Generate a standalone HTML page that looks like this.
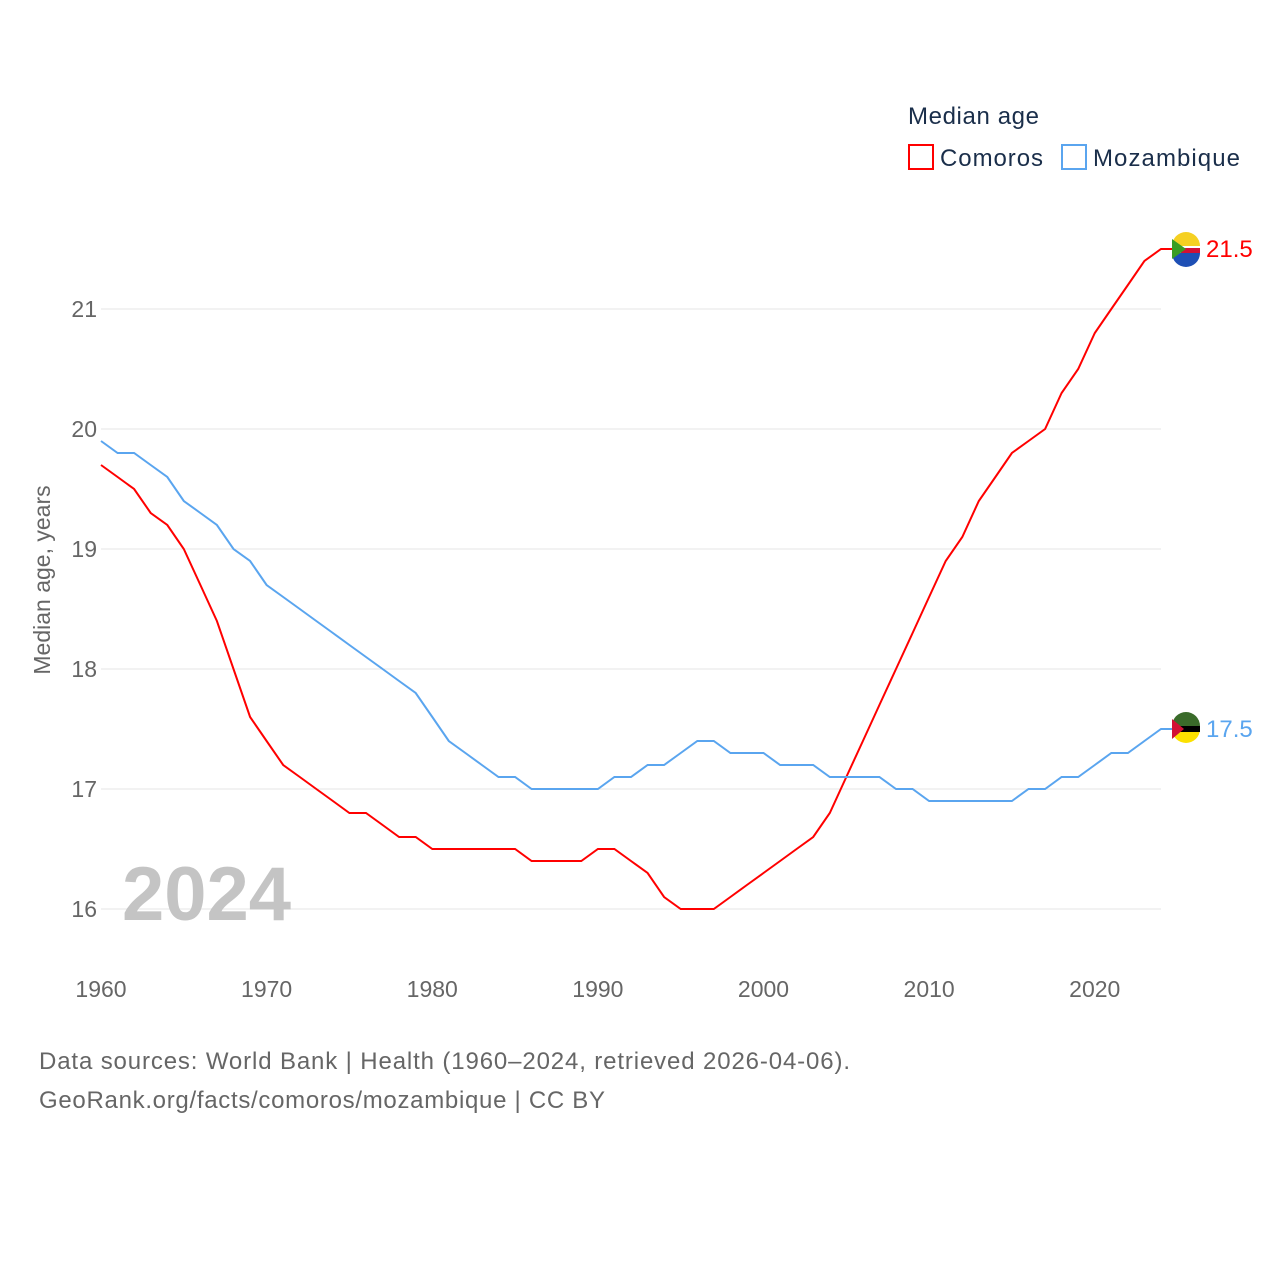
<!DOCTYPE html>
<html><head><meta charset="utf-8"><style>
body{margin:0;background:#fff;}
svg{display:block;font-family:"Liberation Sans",sans-serif;}
</style></head><body>
<svg id="chart" width="1280" height="1280" viewBox="0 0 1280 1280">
<g id="grid"></g>
<g id="yticks"></g>
<g id="xticks"></g>
<text x="50" y="580" transform="rotate(-90 50 580)" text-anchor="middle" font-size="23" fill="#666">Median age, years</text>
<text x="122" y="920" font-size="76" font-weight="bold" fill="#c4c4c4">2024</text>
<g id="lines"></g>
<g>
<text x="908" y="124" font-size="24" fill="#1a2e4a" textLength="131">Median age</text>
<g><rect x="909" y="145" width="24" height="24" fill="none" stroke="#ff0000" stroke-width="2"/><text x="940" y="166" font-size="24" fill="#1a2e4a" textLength="103">Comoros</text></g>
<g><rect x="1062" y="145" width="24" height="24" fill="none" stroke="#5aa5ef" stroke-width="2"/><text x="1093" y="166" font-size="24" fill="#1a2e4a" textLength="147">Mozambique</text></g>
</g>
<text x="39" y="1069" font-size="24" fill="#666" textLength="811">Data sources: World Bank | Health (1960–2024, retrieved 2026-04-06).</text>
<text x="39" y="1108" font-size="24" fill="#666" textLength="566">GeoRank.org/facts/comoros/mozambique | CC BY</text>
</svg>
<script>
const years=[];for(let y=1960;y<=2024;y++)years.push(y);
const comoros=[19.7,19.6,19.5,19.3,19.2,19.0,18.7,18.4,18.0,17.6,17.4,17.2,17.1,17.0,16.9,16.8,16.8,16.7,16.6,16.6,16.5,16.5,16.5,16.5,16.5,16.5,16.4,16.4,16.4,16.4,16.5,16.5,16.4,16.3,16.1,16.0,16.0,16.0,16.1,16.2,16.3,16.4,16.5,16.6,16.8,17.1,17.4,17.7,18.0,18.3,18.6,18.9,19.1,19.4,19.6,19.8,19.9,20.0,20.3,20.5,20.8,21.0,21.2,21.4,21.5];
const mozambique=[19.9,19.8,19.8,19.7,19.6,19.4,19.3,19.2,19.0,18.9,18.7,18.6,18.5,18.4,18.3,18.2,18.1,18.0,17.9,17.8,17.6,17.4,17.3,17.2,17.1,17.1,17.0,17.0,17.0,17.0,17.0,17.1,17.1,17.2,17.2,17.3,17.4,17.4,17.3,17.3,17.3,17.2,17.2,17.2,17.1,17.1,17.1,17.1,17.0,17.0,16.9,16.9,16.9,16.9,16.9,16.9,17.0,17.0,17.1,17.1,17.2,17.3,17.3,17.4,17.5];
const yTicks=[16,17,18,19,20,21];
const xTicks=[1960,1970,1980,1990,2000,2010,2020];
const NS="http://www.w3.org/2000/svg";
const X=y=>101+(y-1960)*(1060/64);
const Y=v=>909-(v-16)*120;
function mk(tag,attrs,parent){const e=document.createElementNS(NS,tag);for(const k in attrs)e.setAttribute(k,attrs[k]);parent.appendChild(e);return e;}
const grid=document.getElementById('grid'),yt=document.getElementById('yticks'),xt=document.getElementById('xticks'),lines=document.getElementById('lines');
yTicks.forEach(v=>{
 const l=mk('line',{x1:101,x2:1161,y1:Y(v),y2:Y(v),stroke:'#e6e6e6','stroke-width':1},grid);
 
 
 const t=mk('text',{x:97,y:Y(v)+8,'text-anchor':'end','font-size':23,fill:'#666'},yt);
 t.textContent=v;
 
 
});
xTicks.forEach(v=>{
 const t=mk('text',{x:X(v),y:997,'text-anchor':'middle','font-size':23,fill:'#666'},xt);
 t.textContent=v;
 
 
});
function series(vals,color,name,flag){
 const last=vals[vals.length-1],cx=1186,cy=Y(last);
 const d=vals.map((v,i)=>(i?'L':'M')+X(years[i]).toFixed(1)+','+Y(v).toFixed(1)).join('')+'L1172,'+cy.toFixed(1);
 const p=mk('path',{d:d,fill:'none',stroke:color,'stroke-width':2},lines);
 
 
 const g=mk('g',{},lines);
 
 
 if(flag==='km'){
  mk('circle',{cx:cx,cy:cy,r:14,fill:'#ffffff'},g);
  mk('path',{d:`M${cx-14},${cy-3} A14,14 0 0 1 ${cx+14},${cy-3} Z`,fill:'#f5d022'},g);
  mk('path',{d:`M${cx-14},${cy+4} A14,14 0 0 0 ${cx+14},${cy+4} Z`,fill:'#1e4fb5'},g);
  mk('rect',{x:cx-5,y:cy-1,width:19,height:5,fill:'#d21034'},g);
  mk('path',{d:`M${cx-14},${cy-10} L${cx},${cy} L${cx-14},${cy+10}Z`,fill:'#3a9d23'},g);
 } else {
  mk('circle',{cx:cx,cy:cy,r:14,fill:'#fce100'},g);
  mk('path',{d:`M${cx-14},${cy-3} A14,14 0 0 1 ${cx+14},${cy-3} Z`,fill:'#3a6b2a'},g);
  mk('rect',{x:cx-14,y:cy-3,width:28,height:6,fill:'#000'},g);
  mk('path',{d:`M${cx-14},${cy-10} L${cx-2},${cy} L${cx-14},${cy+10}Z`,fill:'#d21034'},g);
 }
 const t=mk('text',{x:1206,y:cy+8,'font-size':24,fill:color},lines);
 t.textContent=last.toFixed(1);
 
 
}
series(comoros,'#ff0000','comoros','km');
series(mozambique,'#5aa5ef','mozambique','mz');
</script>
</body></html>
